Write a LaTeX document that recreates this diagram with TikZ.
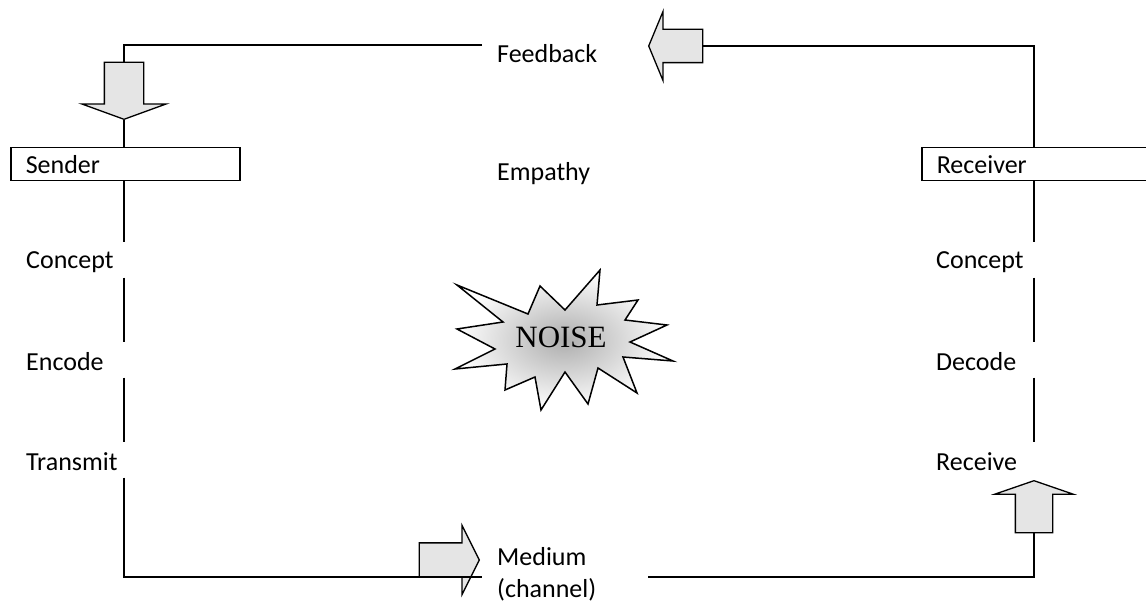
\documentclass[tikz,border=0pt]{standalone}
\usepackage{fontspec}
\setmainfont{Carlito}
\newfontfamily\noisefont{Liberation Serif}
\usetikzlibrary{positioning, shapes.arrows, calc}
\tikzset{
  wire/.style={line width=1.5pt},
  partybox/.style={draw, wire, text width=199pt, inner xsep=15pt, inner ysep=0pt, minimum height=33pt, align=left, anchor=north west},
  midbox/.style={text width=136pt, inner xsep=15pt, inner ysep=2pt, align=left, anchor=base west},
  lbl/.style={inner sep=2pt, anchor=base west},
  gap/.style={inner sep=0pt, minimum height=35pt, minimum width=0pt},
  blockarrow/.style={single arrow, draw, fill=black!10, line width=1.3pt, anchor=tip},
}
\begin{document}
\begin{tikzpicture}[x=1pt, y=-1pt, font=\fontsize{26}{32}\selectfont]
  \useasboundingbox (0,0) rectangle (1146,604);

  % Sender and receiver boxes
  \node[partybox] (sender) at (10,147) {Sender};
  \node[partybox] (receiver) at (921,147) {Receiver};

  % Middle texts
  \node[midbox] (fb) at (482,63) {Feedback};
  \node[lbl] (empathy) at (495,181) {Empathy};
  \node[midbox] (med) at (482,565) {Medium\\(channel)};

  % Steps on both sides, with gaps in the lines
  \foreach \y [count=\i] in {260,360,460} {
    \node[gap] (sgap\i) at (124,\y) {};
    \node[gap] (rgap\i) at (1034,\y) {};
  }
  \node[lbl] (sconcept) at (24,269) {Concept};
  \node[lbl] (encode) at (24,370) {Encode};
  \node[lbl] (transmit) at (24,470) {Transmit};
  \node[lbl] (rconcept) at (934,269) {Concept};
  \node[lbl] (decode) at (934,370) {Decode};
  \node[lbl] (receive) at (934,470) {Receive};

  % Block arrows
  \node[blockarrow, rotate=-90, inner sep=19pt, minimum height=57pt,
        single arrow head extend=22.5pt, single arrow tip angle=140] (sarrow) at (124,120) {};
  \node[blockarrow, rotate=180, inner sep=16pt, minimum height=54pt,
        single arrow head extend=18pt, single arrow tip angle=135] (fbarrow) at (648,46) {};
  \node[blockarrow, inner sep=16.5pt, minimum height=60pt,
        single arrow head extend=17.5pt, single arrow tip angle=127] (marrow) at (480,560) {};
  \node[blockarrow, rotate=90, inner sep=18pt, minimum height=52pt,
        single arrow head extend=20.5pt, single arrow tip angle=142] (rarrow) at (1034,480) {};

  % Loop lines
  \coordinate (tl) at (124,45);
  \coordinate (base) at (0,577);
  \draw[wire] (fb.west |- tl) -- (tl) -- (sarrow.tail);
  \draw[wire] (sarrow.tip) -- (sarrow.tip |- sender.north);
  \draw[wire] (sgap1 |- sender.south) -- (sgap1.north);
  \draw[wire] (sgap1.south) -- (sgap2.north);
  \draw[wire] (sgap2.south) -- (sgap3.north);
  \draw[wire] (sgap3.south) |- (med.west |- base);
  \draw[wire] (med.east |- base) -| (rarrow.tail);
  \draw[wire] (rgap2.south) -- (rgap3.north);
  \draw[wire] (rgap1.south) -- (rgap2.north);
  \draw[wire] (rgap1 |- receiver.south) -- (rgap1.north);
  \draw[wire] (fbarrow.tail) -| (receiver.north -| rgap1);

  % Noise burst
  \shade[draw, line width=1.5pt, inner color=black!32, outer color=white]
    (457,285) -- (528,314) -- (540,286) -- (565,310) -- (600,270) -- (597,305)
    -- (638,300) -- (625,320) -- (667,325) -- (630,342) -- (673,361) -- (623,357)
    -- (637,393) -- (598,368) -- (588,404) -- (565,372) -- (541,410) -- (535,377)
    -- (505,390) -- (507,364) -- (455,369) -- (495,349) -- (457,329) -- (503,322) -- cycle;
  \node[anchor=base, font=\noisefont\fontsize{31}{36}\selectfont] (noise) at (561,347) {NOISE};
\end{tikzpicture}
\end{document}
